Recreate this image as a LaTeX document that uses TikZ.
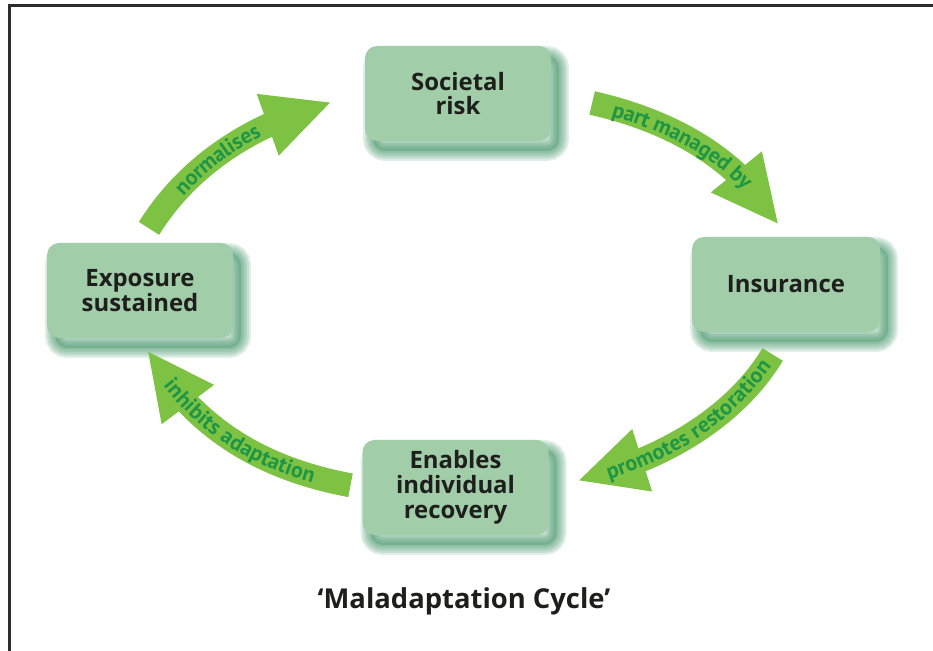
\documentclass[tikz,border=0pt]{standalone}
\usepackage{fontspec}
\setmainfont{Open Sans}
\newfontfamily\labelfam{PT Sans}
\usetikzlibrary{arrows.meta,bending,decorations.text,shadows}
\definecolor{boxgreen}{RGB}{161,206,169}
\definecolor{shadegreen}{RGB}{52,140,92}
\definecolor{arrowgreen}{RGB}{125,194,66}
\definecolor{labelgreen}{RGB}{30,150,70}
\definecolor{inkblack}{RGB}{30,30,28}
\definecolor{framegray}{RGB}{45,45,45}
\newcommand\labelfont{\labelfam\fontsize{22}{22}\selectfont\bfseries\color{labelgreen}}

\begin{document}
\begin{tikzpicture}[x=1bp,y=1bp,
  boxshade/.style={general shadow={shadow xshift=8bp, shadow yshift=-10bp, draw=shadegreen, draw opacity=.15, line width=#1}},
  cyclebox/.style={rectangle, rounded corners=12bp, fill=boxgreen, text=inkblack, align=center,
    minimum width=186bp, minimum height=95bp, inner sep=0pt, font=\fontsize{24}{25}\selectfont\bfseries,
    general shadow={shadow xshift=8bp, shadow yshift=-10bp, fill=shadegreen, fill opacity=.3},
    boxshade=20bp, boxshade=16bp, boxshade=12bp, boxshade=8bp, boxshade=4bp},
  cyclearrow/.style={draw=arrowgreen, line width=24bp, -{Triangle[length=68bp,width=60bp]}},
  arrowlabel/.style 2 args={decorate, decoration={text along path, raise=-7bp,
    text align={align=left, left indent=#1}, text={|\labelfont|#2}}}]
\useasboundingbox (0,0) rectangle (933,651);
\draw[framegray, line width=3bp] (9,0) -- (9,645) -- (933,645);

\node[cyclebox] (risk) at (458,557.5) {Societal\\risk};
\node[cyclebox, minimum width=188bp] (insur) at (786,366.5) {Insurance};
\node[cyclebox] (recov) at (455.5,163.5) {Enables\\individual\\recovery};
\node[cyclebox] (expo) at (140,360.5) {Exposure\\sustained};

\draw[cyclearrow, shorten <=17bp, shorten >=35bp] (expo.north) to[out=58,in=193] (risk.west);
\draw[cyclearrow, shorten <=42bp, shorten >=14bp] (risk.east) to[out=-13,in=119.4] (insur.north);
\draw[cyclearrow, shorten <=26bp, shorten >=30bp] (insur.south) to[out=239,in=11.8] (recov.east);
\draw[cyclearrow, shorten <=12bp, shorten >=14bp] (recov.west) to[out=169.4,in=299.4] (expo.south);

\path[arrowlabel={64bp}{normalises}] (expo.north) to[out=58,in=193] (risk.west);
\path[arrowlabel={64bp}{part managed by}] (risk.east) to[out=-13,in=119.4] (insur.north);
\path[arrowlabel={60bp}{promotes restoration}] (recov.east) to[out=11.8,in=239] (insur.south);
\path[arrowlabel={52bp}{inhibits adaptation}] (expo.south) to[out=299.4,in=169.4] (recov.west);

\node[font=\fontsize{27.5}{27.5}\selectfont\bfseries, text=inkblack, anchor=base] (title) at (464,42) {‘Maladaptation Cycle’};
\end{tikzpicture}
\end{document}
